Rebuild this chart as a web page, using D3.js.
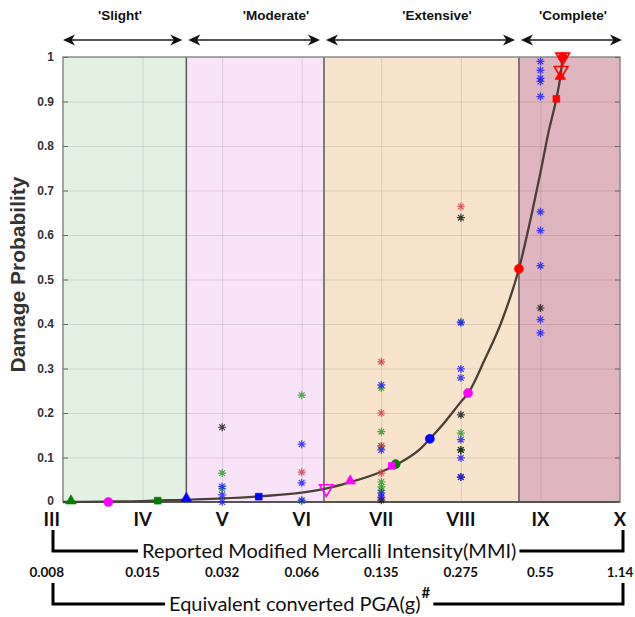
<!DOCTYPE html>
<html>
<head>
<meta charset="utf-8">
<script src="https://cdn.jsdelivr.net/npm/d3@7"></script>
<style>
  body { margin: 0; background: #fff; }
  svg { display: block; }
</style>
</head>
<body>
<svg id="chart"></svg>
<script>
// damage states and where they sit on the MMI axis
const stateNames = ["'Slight'", "'Moderate'", "'Extensive'", "'Complete'"];
const stateBounds = [3, 4.55, 6.28, 8.73, 10];

// tick labels
const mmiTicks = [3, 4, 5, 6, 7, 8, 9, 10];
const mmiLabels = ['III', 'IV', 'V', 'VI', 'VII', 'VIII', 'IX', 'X'];
const pgaLabels = ['0.008', '0.015', '0.032', '0.066', '0.135', '0.275', '0.55', '1.14'];
const yTicks = [0, 0.1, 0.2, 0.3, 0.4, 0.5, 0.6, 0.7, 0.8, 0.9, 1];

// fitted curve
const curveMMI = [3.0, 3.5, 4.0, 4.5, 5.0, 5.5, 6.0, 6.3, 6.6, 7.0, 7.2, 7.5, 7.6, 7.8, 8.0, 8.1, 8.3, 8.5, 8.73, 8.9, 9.0, 9.1, 9.2, 9.25, 9.28];
const curveP   = [0.0, 0.001, 0.002, 0.005, 0.008, 0.013, 0.021, 0.030, 0.044, 0.068, 0.085, 0.121, 0.140, 0.180, 0.225, 0.247, 0.32, 0.40, 0.524, 0.655, 0.74, 0.83, 0.906, 0.955, 1.0];

// markers on the curve: [mmi, prob, symbol]
const greenFit = [[3.1, 0, 'triangle'], [4.19, 0.003, 'square'], [7.18, 0.085, 'circle']];
const magentaFit = [[3.57, 0, 'circle'], [6.31, 0.03, 'down'], [6.61, 0.045, 'triangle'], [7.13, 0.081, 'square'], [8.09, 0.245, 'circle']];
const blueFit = [[4.55, 0.006, 'triangle'], [5.46, 0.012, 'square'], [7.61, 0.142, 'circle']];
const redFit = [[8.73, 0.524, 'circle'], [9.2, 0.906, 'square'], [9.25, 0.954, 'triangle'], [9.26, 0.97, 'down'], [9.28, 1.0, 'down'], [9.28, 1.0, 'circle']];

// observed damage ratios (asterisks): [mmi, prob]
const obsBlack = [[5, 0.168], [7, 0.004], [8, 0.639], [8, 0.196], [8, 0.117], [8, 0.056], [9, 0.436]];
const obsGreen = [[5, 0.065], [5, 0.03], [6, 0.24], [6, 0.002], [7, 0.256], [7, 0.158], [7, 0.126], [7, 0.045], [7, 0.034], [7, 0.026], [8, 0.405], [8, 0.155], [8, 0.117]];
const obsRed = [[6, 0.067], [7, 0.315], [7, 0.2], [7, 0.126], [7, 0.065], [7, 0.009], [8, 0.664]];
const obsBlue = [[5, 0.035], [5, 0.016], [5, 0.0], [6, 0.13], [6, 0.043], [6, 0.004], [7, 0.263], [7, 0.117], [7, 0.02], [7, 0.011],
  [8, 0.403], [8, 0.299], [8, 0.279], [8, 0.14], [8, 0.099], [8, 0.056],
  [9, 0.99], [9, 0.97], [9, 0.952], [9, 0.945], [9, 0.911], [9, 0.652], [9, 0.61], [9, 0.531], [9, 0.41], [9, 0.38]];

const W = 635, H = 617;
const regionFill = ['#e3f1e3', '#f9e3f9', '#f8e4cc', '#dfb6bf'];

const x = d3.scaleLinear().domain([3, 10]).range([63, 620]);
const y = d3.scaleLinear().domain([0, 1]).range([502, 57]);

const svg = d3.select('#chart').attr('width', W).attr('height', H)
  .style('font-family', 'Liberation Sans, Arial, sans-serif');

// shaded damage-state regions
svg.selectAll('rect.region')
  .data(stateNames)
  .enter()
  .append('rect')
  .attr('class', 'region')
  .attr('x', (d, i) => x(stateBounds[i]))
  .attr('y', y(1))
  .attr('width', (d, i) => x(stateBounds[i + 1]) - x(stateBounds[i]))
  .attr('height', y(0) - y(1))
  .attr('fill', (d, i) => regionFill[i]);

// grid
svg.append('g')
  .attr('transform', `translate(0,${y(0)})`)
  .call(d3.axisBottom(x).tickValues(mmiTicks.slice(1, -1)).tickSize(-(y(0) - y(1))).tickFormat(''))
  .call(g => g.select('.domain').remove())
  .selectAll('line').attr('stroke', '#000').attr('stroke-opacity', 0.11);
svg.append('g')
  .attr('transform', `translate(${x(3)},0)`)
  .call(d3.axisLeft(y).tickValues(yTicks.slice(1, -1)).tickSize(-(x(10) - x(3))).tickFormat(''))
  .call(g => g.select('.domain').remove())
  .selectAll('line').attr('stroke', '#000').attr('stroke-opacity', 0.1);

// region borders
svg.selectAll('line.bound')
  .data(stateBounds.slice(1, -1))
  .enter()
  .append('line')
  .attr('class', 'bound')
  .attr('x1', d => x(d)).attr('x2', d => x(d))
  .attr('y1', y(1)).attr('y2', y(0))
  .attr('stroke', '#5a5a5a').attr('stroke-width', 1.5);

// plot box
svg.append('rect')
  .attr('x', x(3)).attr('y', y(1))
  .attr('width', x(10) - x(3)).attr('height', y(0) - y(1))
  .attr('fill', 'none').attr('stroke', '#8a8a8a').attr('stroke-width', 1.5);
svg.append('line')
  .attr('x1', x(3)).attr('x2', x(10)).attr('y1', y(0)).attr('y2', y(0))
  .attr('stroke', '#555').attr('stroke-width', 2.2);

// inward ticks, left and right
svg.append('g')
  .attr('transform', `translate(${x(3)},0)`)
  .call(d3.axisLeft(y).tickValues(yTicks).tickSize(-5).tickFormat(''))
  .call(g => g.select('.domain').remove())
  .selectAll('line').attr('stroke', '#666');
svg.append('g')
  .attr('transform', `translate(${x(10)},0)`)
  .call(d3.axisRight(y).tickValues(yTicks).tickSize(-5).tickFormat(''))
  .call(g => g.select('.domain').remove())
  .selectAll('line').attr('stroke', '#666');

// y tick labels
const yAxis = svg.append('g')
  .attr('transform', `translate(${x(3)},0)`)
  .call(d3.axisLeft(y).tickValues(yTicks).tickSize(0).tickPadding(9).tickFormat(d3.format('~g')));
yAxis.select('.domain').remove();
yAxis.selectAll('text')
  .attr('font-family', 'Liberation Sans, Arial, sans-serif')
  .attr('font-size', 12).attr('font-weight', 'bold').attr('fill', '#333')
  .attr('dy', d => d === 0 ? '0.2em' : '0.32em');

svg.append('text')
  .attr('transform', `translate(25,${(y(0) + y(1)) / 2 - 5}) rotate(-90)`)
  .attr('text-anchor', 'middle')
  .attr('font-size', 21).attr('font-weight', 'bold').attr('fill', '#333')
  .text('Damage Probability');

// fitted curve
const line = d3.line()
  .x(d => x(d[0]))
  .y(d => y(d[1]))
  .curve(d3.curveMonotoneX);
svg.append('path')
  .datum(curveMMI.map((m, i) => [m, curveP[i]]))
  .attr('d', line)
  .attr('fill', 'none')
  .attr('stroke', '#4b4036')
  .attr('stroke-width', 2.3);

// asterisks
const starPath = (r) => {
  const a = r * Math.SQRT1_2;
  return `M${-r},0L${r},0M0,${-r}L0,${r}M${-a},${-a}L${a},${a}M${-a},${a}L${a},${-a}`;
};
const obsSets = [
  { data: obsGreen, color: '#2a9a2a' },
  { data: obsRed, color: '#d23a4a' },
  { data: obsBlack, color: '#111' },
  { data: obsBlue, color: '#1a1aff' }
];
obsSets.forEach(s => {
  svg.append('g').selectAll('path')
    .data(s.data)
    .enter()
    .append('path')
    .attr('d', starPath(4))
    .attr('transform', d => `translate(${x(d[0])},${y(d[1])})`)
    .attr('fill', 'none')
    .attr('stroke', s.color)
    .attr('stroke-width', 1.2)
    .attr('stroke-opacity', 0.8);
});

// markers on the curve
const symbolOf = {
  triangle: d3.symbol().type(d3.symbolTriangle).size(50),
  square: d3.symbol().type(d3.symbolSquare).size(48),
  circle: d3.symbol().type(d3.symbolCircle).size(66),
  down: d3.symbol().type(d3.symbolTriangle).size(80)
};
const fitSets = [
  { data: greenFit, color: '#008000' },
  { data: magentaFit, color: '#ff00ff' },
  { data: blueFit, color: '#0000ff' },
  { data: redFit, color: '#ff0000' }
];
fitSets.forEach(s => {
  svg.append('g').selectAll('path')
    .data(s.data)
    .enter()
    .append('path')
    .attr('d', d => symbolOf[d[2]]())
    .attr('transform', d => `translate(${x(d[0])},${y(d[1]) - (d[2] === 'triangle' ? 1 : 0)})` + (d[2] === 'down' ? ' rotate(180)' : ''))
    .attr('fill', d => d[2] === 'down' ? 'none' : s.color)
    .attr('stroke', s.color)
    .attr('stroke-width', d => d[2] === 'down' ? 1.6 : 0.5);
});

// damage-state headings and double arrows
svg.selectAll('text.state')
  .data(stateNames)
  .enter()
  .append('text')
  .attr('class', 'state')
  .attr('x', (d, i) => [120, 276, 437, 573][i])
  .attr('y', 20)
  .attr('text-anchor', 'middle')
  .attr('font-size', 13.5).attr('font-weight', 'bold').attr('fill', '#111')
  .text(d => d);

const head = (px, dir) => `M${px},40l${-dir * 12},-5.5l${dir * 3.5},5.5l${-dir * 3.5},5.5z`;
stateNames.forEach((d, i) => {
  const x0 = x(stateBounds[i]) + (i === 0 ? 0 : 2);
  const x1 = x(stateBounds[i + 1]) - (i === 3 ? -2 : 4);
  svg.append('line')
    .attr('x1', x0 + 4).attr('x2', x1 - 4).attr('y1', 40).attr('y2', 40)
    .attr('stroke', '#555').attr('stroke-width', 2);
  svg.append('path').attr('d', head(x0, -1)).attr('fill', '#111');
  svg.append('path').attr('d', head(x1, 1)).attr('fill', '#111');
});

// bottom labels
const bottomFont = 'Lato, Noto Sans, sans-serif';
svg.selectAll('text.mmi')
  .data(mmiLabels)
  .enter()
  .append('text')
  .attr('class', 'mmi')
  .attr('x', (d, i) => i === 0 ? x(mmiTicks[i]) - 3 : x(mmiTicks[i]))
  .attr('y', 526)
  .attr('text-anchor', (d, i) => i === 0 ? 'end' : 'middle')
  .attr('font-family', bottomFont).attr('font-size', 18.5).attr('font-weight', 'bold').attr('fill', '#111')
  .text(d => d);

svg.selectAll('text.pga')
  .data(pgaLabels)
  .enter()
  .append('text')
  .attr('class', 'pga')
  .attr('x', (d, i) => i === 0 ? x(mmiTicks[i]) + 1 : x(mmiTicks[i]))
  .attr('y', 577)
  .attr('text-anchor', (d, i) => i === 0 ? 'end' : 'middle')
  .attr('font-family', bottomFont).attr('font-size', 13.5).attr('font-weight', 'bold').attr('fill', '#111')
  .text(d => d);

// brackets with titles
function bracket(yTop, yLine, textStart, label, sup) {
  const lx = 53, rx = 623;
  const t = svg.append('text')
    .attr('x', textStart).attr('y', yLine + 6.5)
    .attr('font-family', bottomFont).attr('font-size', 20).attr('fill', '#111')
    .text(label);
  let end = textStart + t.node().getComputedTextLength();
  if (sup) {
    const s = svg.append('text')
      .attr('x', end + 1).attr('y', yLine - 6)
      .attr('font-family', bottomFont).attr('font-size', 15).attr('font-weight', 'bold').attr('fill', '#111')
      .text(sup);
    end += s.node().getComputedTextLength() + 1;
  }
  svg.append('path')
    .attr('d', `M${lx},${yTop}V${yLine}H${textStart - 4}M${end + 3},${yLine}H${rx}V${yTop}`)
    .attr('fill', 'none').attr('stroke', '#000').attr('stroke-width', 3);
}
bracket(530, 551, 142, 'Reported Modified Mercalli Intensity(MMI)');
bracket(583, 604, 169, 'Equivalent converted PGA(g)', '#');
</script>
</body>
</html>
